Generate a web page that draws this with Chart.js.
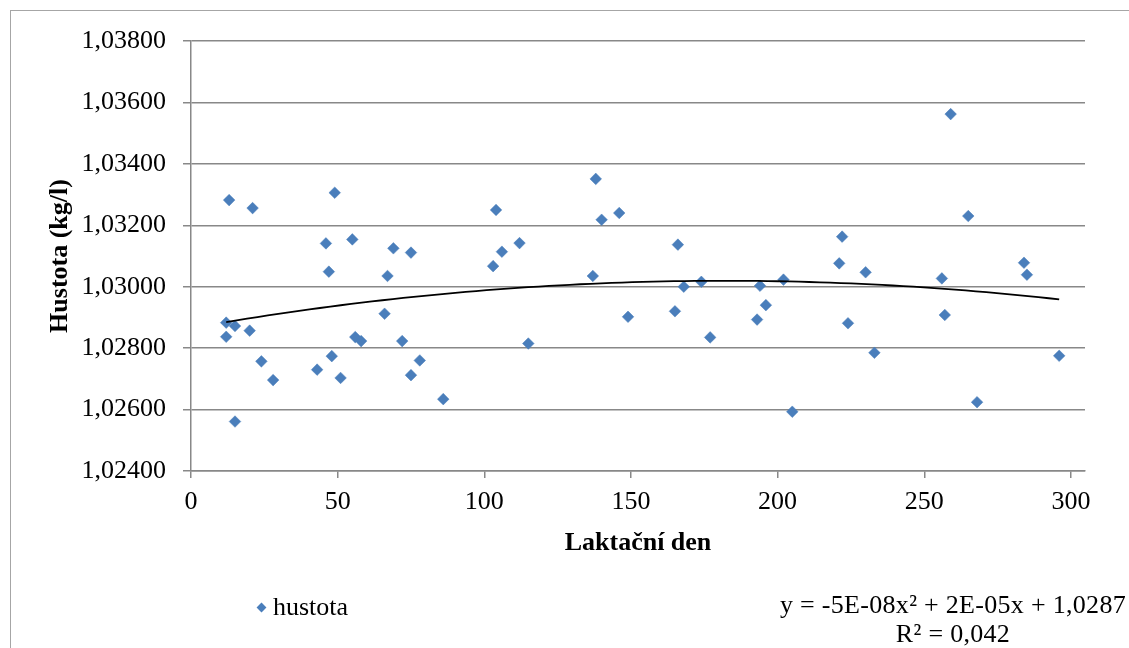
<!DOCTYPE html>
<html lang="cs">
<head>
<meta charset="utf-8">
<title>Hustota mléka podle laktačního dne</title>
<script src="https://cdn.jsdelivr.net/npm/chart.js@4.4.1/dist/chart.umd.min.js"></script>
<style>
  html, body { margin: 0; padding: 0; background: #fff; }
  #wrap {
    position: relative; width: 1129px; height: 648px; overflow: hidden;
    font-family: "Liberation Serif", "Times New Roman", serif; color: #000;
  }
  #frame {
    position: absolute; left: 10px; top: 10px; width: 1300px; height: 800px;
    border: 1px solid #a6a6a6; box-sizing: border-box;
  }
  #chart { position: absolute; left: 0; top: 0; }
  #legend {
    position: absolute; left: 258px; top: 592px; height: 30px;
    display: flex; align-items: center; font-size: 26px;
  }
  #legend .marker {
    width: 7px; height: 7px; background: #4a7ebb;
    transform: rotate(45deg); margin-right: 8px;
  }
  #equation {
    position: absolute; left: 753px; top: 590px; width: 400px;
    text-align: center; font-size: 26px; line-height: 29px;
    letter-spacing: 0.3px;
  }
</style>
</head>
<body>
<div id="wrap">
  <div id="frame"></div>
  <canvas id="chart" width="1129" height="648"></canvas>
  <div id="legend"><span class="marker"></span>hustota</div>
  <div id="equation">y = -5E-08x² + 2E-05x + 1,0287<br>R² = 0,042</div>
</div>
<script>
// lactation day of each sample
const laktDen = [
  13, 21, 49, 104, 46, 55, 69, 75, 106, 47,
  67, 103, 12, 15, 20, 12, 66, 56, 58, 72,
  24, 28, 43, 48, 51, 75, 78, 86, 15, 138,
  140, 146, 112, 166, 137, 168, 174, 194, 202, 149,
  165, 196, 193, 177, 115, 205, 259, 265, 222, 221,
  230, 256, 284, 285, 224, 257, 233, 296, 268
];

// milk density (kg/l)
const hustota = [
  1.03282, 1.03256, 1.03306, 1.03250, 1.03141, 1.03154, 1.03125, 1.03111, 1.03114, 1.03049,
  1.03035, 1.03067, 1.02883, 1.02872, 1.02857, 1.02837, 1.02912, 1.02836, 1.02823, 1.02823,
  1.02757, 1.02696, 1.02730, 1.02774, 1.02703, 1.02712, 1.02760, 1.02634, 1.02561, 1.03351,
  1.03218, 1.03240, 1.03142, 1.03137, 1.03035, 1.03000, 1.03016, 1.03003, 1.03023, 1.02902,
  1.02920, 1.02940, 1.02893, 1.02835, 1.02815, 1.02593, 1.03562, 1.03230, 1.03163, 1.03076,
  1.03047, 1.03027, 1.03078, 1.03039, 1.02881, 1.02908, 1.02785, 1.02775, 1.02624
];

const xTicks = [0, 50, 100, 150, 200, 250, 300];
const yTicks = [1.024, 1.026, 1.028, 1.030, 1.032, 1.034, 1.036, 1.038];

const serif = "'Liberation Serif', 'Times New Roman', serif";
const gridColor = "#888888";

// least squares fit of y = a*x^2 + b*x + c
function quadFit(xs, ys) {
  const s = [0, 0, 0, 0, 0];
  const t = [0, 0, 0];
  for (let i = 0; i < xs.length; i++) {
    let p = 1;
    for (let k = 0; k < 5; k++) {
      s[k] += p;
      if (k < 3) t[k] += ys[i] * p;
      p *= xs[i];
    }
  }
  const m = [
    [s[0], s[1], s[2], t[0]],
    [s[1], s[2], s[3], t[1]],
    [s[2], s[3], s[4], t[2]],
  ];
  for (let col = 0; col < 3; col++) {
    for (let row = col + 1; row < 3; row++) {
      const f = m[row][col] / m[col][col];
      for (let k = col; k < 4; k++) m[row][k] -= f * m[col][k];
    }
  }
  const sol = [0, 0, 0];
  for (let row = 2; row >= 0; row--) {
    let v = m[row][3];
    for (let k = row + 1; k < 3; k++) v -= m[row][k] * sol[k];
    sol[row] = v / m[row][row];
  }
  return { c: sol[0], b: sol[1], a: sol[2] };
}

const fit = quadFit(laktDen, hustota);
const xMin = Math.min(...laktDen);
const xMax = Math.max(...laktDen);
const trendPoints = [];
for (let i = 0; i <= 80; i++) {
  const x = xMin + (xMax - xMin) * i / 80;
  trendPoints.push({ x: x, y: fit.a * x * x + fit.b * x + fit.c });
}

const points = laktDen.map((x, i) => ({ x: x, y: hustota[i] }));

Chart.defaults.color = "#000";
Chart.defaults.font.family = serif;

new Chart(document.getElementById("chart"), {
  type: "scatter",
  data: {
    datasets: [
      {
        label: "Polyg. (hustota)",
        type: "line",
        data: trendPoints,
        borderColor: "#000",
        borderWidth: 1.8,
        pointRadius: 0,
        fill: false,
        tension: 0,
        order: 0,
      },
      {
        label: "hustota",
        data: points,
        pointStyle: "rectRot",
        pointRadius: 5.8,
        pointBackgroundColor: "#4a7ebb",
        pointBorderColor: "#4a7ebb",
        pointBorderWidth: 0.5,
        order: 1,
      },
    ],
  },
  options: {
    responsive: false,
    animation: false,
    devicePixelRatio: 1,
    layout: { padding: { left: 0, top: 41, right: 44, bottom: 87 } },
    plugins: { legend: { display: false }, tooltip: { enabled: false } },
    scales: {
      x: {
        type: "linear",
        min: 0,
        max: 304.8,
        afterFit: (scale) => { scale.height = 90; },
        afterBuildTicks: (scale) => { scale.ticks = xTicks.map((v) => ({ value: v })); },
        ticks: {
          font: { size: 26 },
          padding: 9,
          maxRotation: 0,
          callback: (v) => String(v),
        },
        grid: {
          drawOnChartArea: false,
          drawTicks: true,
          tickLength: 7,
          color: gridColor,
          lineWidth: 1.5,
        },
        border: { display: true, color: gridColor, width: 1.5 },
        title: {
          display: true,
          text: "Laktační den",
          font: { size: 26, weight: "bold" },
          padding: { top: 0, bottom: 2 },
        },
      },
      y: {
        type: "linear",
        min: 1.024,
        max: 1.038,
        afterFit: (scale) => { scale.width = 191; },
        afterBuildTicks: (scale) => { scale.ticks = yTicks.map((v) => ({ value: v })); },
        ticks: {
          font: { size: 26 },
          padding: 17,
          callback: (v) => v.toFixed(5).replace(".", ","),
        },
        grid: {
          drawTicks: true,
          tickLength: 8,
          color: gridColor,
          lineWidth: 1.5,
        },
        border: { display: true, color: gridColor, width: 1.5 },
        title: {
          display: true,
          text: "Hustota (kg/l)",
          font: { size: 26, weight: "bold" },
          padding: { top: 45, bottom: 0 },
        },
      },
    },
  },
});
</script>
</body>
</html>
